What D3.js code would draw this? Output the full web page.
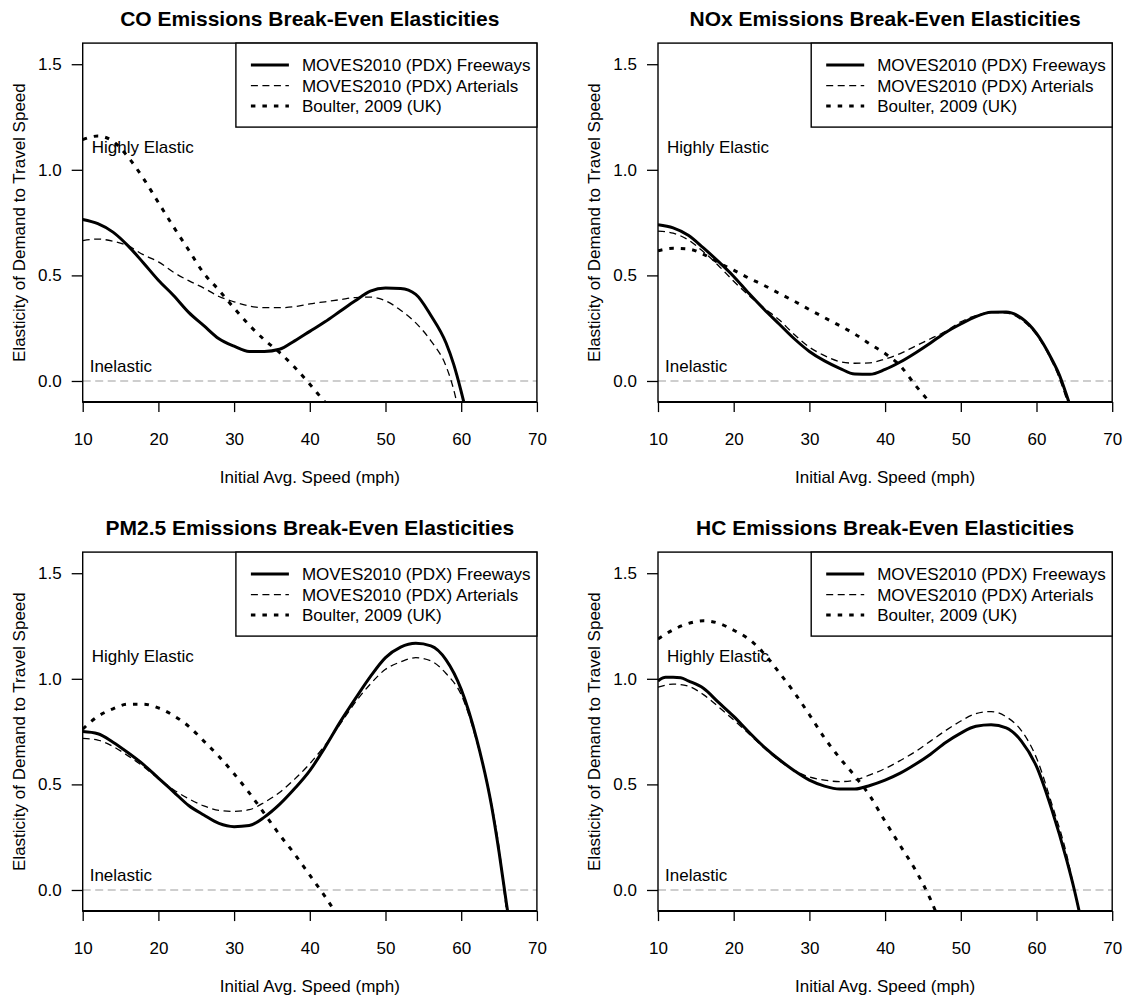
<!DOCTYPE html>
<html>
<head>
<meta charset="utf-8">
<script src="https://cdn.jsdelivr.net/npm/d3@7"></script>
<style>
  body { margin: 0; background: #fff; }
  svg { display: block; font-family: "Liberation Sans", Arial, Helvetica, sans-serif; }
</style>
</head>
<body>
<svg id="chart" width="1130" height="997"></svg>
<script>
// x ticks / y ticks
const speedTicks = [10, 20, 30, 40, 50, 60, 70];
const elastTicks = [0, 0.5, 1.0, 1.5];
const seriesNames = ["MOVES2010 (PDX) Freeways", "MOVES2010 (PDX) Arterials", "Boulter, 2009 (UK)"];

// [speed mph, elasticity]
const coFreeways = [[10,0.765],[12,0.745],[14,0.705],[16,0.64],[18,0.56],[20,0.477],[22,0.405],[24,0.325],[26,0.262],[28,0.2],[30,0.165],[32,0.14],[34,0.14],[36,0.15],[38,0.19],[40,0.235],[42,0.28],[44,0.33],[46,0.38],[48,0.425],[50,0.44],[52,0.438],[54,0.41],[56,0.31],[58,0.18],[59,0.08],[60,-0.05],[61,-0.2]];
const coArterials = [[10,0.665],[12,0.672],[14,0.662],[16,0.64],[18,0.598],[20,0.564],[22,0.515],[24,0.475],[26,0.44],[28,0.4],[30,0.375],[32,0.355],[34,0.347],[36,0.347],[38,0.352],[40,0.365],[42,0.375],[44,0.385],[46,0.395],[48,0.397],[50,0.38],[52,0.335],[54,0.275],[56,0.19],[58,0.07],[59,-0.04],[60,-0.2]];
const coBoulter = [[10,1.143],[12,1.16],[14,1.135],[16,1.06],[18,0.96],[20,0.845],[22,0.73],[24,0.62],[26,0.51],[28,0.43],[30,0.345],[32,0.265],[34,0.195],[36,0.135],[38,0.065],[40,-0.015],[42,-0.1],[43,-0.14]];

const noxFreeways = [[10,0.74],[12,0.725],[14,0.69],[16,0.63],[18,0.565],[20,0.495],[22,0.415],[24,0.34],[26,0.27],[28,0.2],[30,0.14],[32,0.095],[34,0.06],[36,0.033],[38,0.032],[40,0.055],[42,0.09],[44,0.133],[46,0.18],[48,0.23],[50,0.27],[52,0.305],[54,0.325],[56,0.327],[58,0.298],[60,0.225],[62,0.104],[63,0.03],[64,-0.07],[65,-0.18]];
const noxArterials = [[10,0.71],[12,0.7],[14,0.668],[16,0.612],[18,0.546],[20,0.472],[22,0.405],[24,0.345],[26,0.29],[28,0.22],[30,0.16],[32,0.12],[34,0.092],[36,0.084],[38,0.086],[40,0.104],[42,0.13],[44,0.165],[46,0.2],[48,0.235],[50,0.28],[52,0.31],[54,0.325],[56,0.322],[58,0.29],[60,0.218],[62,0.096],[63,0.015],[64,-0.09],[65,-0.2]];
const noxBoulter = [[10,0.617],[12,0.628],[14,0.625],[16,0.6],[18,0.56],[20,0.525],[22,0.487],[24,0.453],[26,0.415],[28,0.378],[30,0.338],[32,0.3],[34,0.262],[36,0.222],[38,0.175],[40,0.13],[42,0.072],[44,-0.02],[46,-0.105]];

const pmFreeways = [[10,0.75],[12,0.74],[14,0.7],[16,0.65],[18,0.595],[20,0.53],[22,0.465],[24,0.4],[26,0.355],[28,0.315],[30,0.3],[32,0.305],[34,0.345],[36,0.405],[38,0.48],[40,0.565],[42,0.675],[44,0.795],[46,0.905],[48,1.01],[50,1.1],[52,1.15],[54,1.168],[56,1.156],[58,1.09],[60,0.95],[62,0.72],[64,0.4],[65,0.18],[66,-0.07],[67,-0.3]];
const pmArterials = [[10,0.718],[12,0.71],[14,0.68],[16,0.635],[18,0.585],[20,0.527],[22,0.475],[24,0.432],[26,0.398],[28,0.377],[30,0.372],[32,0.38],[34,0.415],[36,0.462],[38,0.525],[40,0.598],[42,0.685],[44,0.785],[46,0.888],[48,0.975],[50,1.045],[52,1.08],[54,1.1],[56,1.085],[58,1.025],[60,0.925],[62,0.71],[64,0.41],[65,0.2],[66,-0.1],[67,-0.3]];
const pmBoulter = [[10,0.762],[12,0.822],[14,0.858],[16,0.88],[18,0.88],[20,0.862],[22,0.826],[24,0.775],[26,0.705],[28,0.632],[30,0.55],[32,0.46],[34,0.362],[36,0.262],[38,0.17],[40,0.07],[42,-0.03],[44,-0.14]];

const hcFreeways = [[10,0.99],[11,1.007],[12,1.007],[13,1.005],[14,0.99],[16,0.955],[18,0.888],[20,0.822],[22,0.748],[24,0.678],[26,0.618],[28,0.565],[30,0.52],[32,0.492],[34,0.478],[36,0.478],[38,0.495],[40,0.52],[42,0.553],[44,0.595],[46,0.643],[48,0.698],[50,0.743],[52,0.775],[54,0.782],[56,0.768],[58,0.705],[60,0.585],[62,0.383],[64,0.14],[65,0.0],[66,-0.16]];
const hcArterials = [[10,0.96],[12,0.975],[14,0.965],[16,0.925],[18,0.867],[20,0.805],[22,0.74],[24,0.673],[26,0.613],[28,0.565],[30,0.535],[32,0.52],[34,0.513],[36,0.52],[38,0.545],[40,0.575],[42,0.613],[44,0.655],[46,0.705],[48,0.755],[50,0.8],[52,0.835],[54,0.845],[56,0.82],[58,0.755],[60,0.625],[62,0.41],[64,0.165],[65,0.0],[66,-0.16]];
const hcBoulter = [[10,1.188],[12,1.232],[14,1.262],[16,1.275],[18,1.263],[20,1.23],[22,1.188],[24,1.12],[26,1.03],[28,0.935],[30,0.83],[32,0.72],[34,0.625],[36,0.54],[38,0.445],[40,0.325],[42,0.21],[44,0.095],[46,-0.045],[47,-0.13]];

const panels = [
  { id: "co", title: "CO Emissions Break-Even Elasticities", series: [coFreeways, coArterials, coBoulter], left: 82.7, top: 43.1 },
  { id: "nox", title: "NOx Emissions Break-Even Elasticities", series: [noxFreeways, noxArterials, noxBoulter], left: 658, top: 43.1 },
  { id: "pm", title: "PM2.5 Emissions Break-Even Elasticities", series: [pmFreeways, pmArterials, pmBoulter], left: 82.7, top: 552.1 },
  { id: "hc", title: "HC Emissions Break-Even Elasticities", series: [hcFreeways, hcArterials, hcBoulter], left: 658, top: 552.1 }
];

const W = 454.2, H = 359;
const lineStyles = [
  { width: 3, dash: null, cap: "butt" },
  { width: 1.3, dash: "7,4.5", cap: "butt" },
  { width: 3, dash: "4.5,7", cap: "butt" }
];

const svg = d3.select("#chart");

panels.forEach(p => {
  const x = d3.scaleLinear().domain([10, 70]).range([p.left, p.left + W]);
  const y = d3.scaleLinear().domain([-0.1, 1.6]).range([p.top + H, p.top]);
  const g = svg.append("g");

  g.append("clipPath").attr("id", "clip-" + p.id)
    .append("rect").attr("x", p.left).attr("y", p.top).attr("width", W).attr("height", H);

  // title
  g.append("text")
    .attr("x", p.left + W / 2).attr("y", p.top - 17.5)
    .attr("text-anchor", "middle")
    .style("font-size", "21px").style("font-weight", "bold")
    .text(p.title);

  // axes
  const xAxis = g.append("g")
    .attr("transform", `translate(0,${p.top + H})`)
    .call(d3.axisBottom(x).tickValues(speedTicks).tickSize(10).tickPadding(21).tickFormat(d3.format("d")));
  const yAxis = g.append("g")
    .attr("transform", `translate(${p.left},0)`)
    .call(d3.axisLeft(y).tickValues(elastTicks).tickSize(11).tickPadding(10).tickFormat(d3.format(".1f")));
  [xAxis, yAxis].forEach(a => {
    a.select(".domain").remove();
    a.selectAll("line").attr("stroke", "#000").attr("stroke-width", 1.3);
    a.selectAll("text").attr("fill", "#000").style("font-size", "17px")
      .style("font-family", "'Liberation Sans', Arial, Helvetica, sans-serif");
  });

  // axis titles
  g.append("text")
    .attr("x", p.left + W / 2).attr("y", p.top + 440)
    .attr("text-anchor", "middle").style("font-size", "17px")
    .text("Initial Avg. Speed (mph)");
  g.append("text")
    .attr("transform", `translate(${p.left - 57.7},${p.top + H / 2}) rotate(-90)`)
    .attr("text-anchor", "middle").style("font-size", "17px")
    .text("Elasticity of Demand to Travel Speed");

  // zero reference line
  g.append("line")
    .attr("x1", p.left).attr("x2", p.left + W)
    .attr("y1", y(0)).attr("y2", y(0))
    .attr("stroke", "#bebebe").attr("stroke-width", 1.3).attr("stroke-dasharray", "8,4.5");

  // region labels
  g.append("text").attr("x", x(10) + 9).attr("y", y(1.1)).attr("dy", "0.25em")
    .style("font-size", "17px").text("Highly Elastic");
  g.append("text").attr("x", x(10) + 7).attr("y", y(0.065)).attr("dy", "0.25em")
    .style("font-size", "17px").text("Inelastic");

  // curves
  const line = d3.line().x(d => x(d[0])).y(d => y(d[1])).curve(d3.curveMonotoneX);
  p.series.forEach((s, i) => {
    const st = lineStyles[i];
    g.append("path")
      .datum(s)
      .attr("clip-path", `url(#clip-${p.id})`)
      .attr("d", line)
      .attr("fill", "none").attr("stroke", "#000")
      .attr("stroke-width", st.width)
      .attr("stroke-linecap", st.cap)
      .attr("stroke-linejoin", "round")
      .attr("stroke-dasharray", st.dash);
  });

  // plot box
  g.append("rect")
    .attr("x", p.left).attr("y", p.top).attr("width", W).attr("height", H)
    .attr("fill", "none").attr("stroke", "#000").attr("stroke-width", 1.4);
  g.append("line")
    .attr("x1", p.left).attr("x2", p.left + W)
    .attr("y1", p.top + H).attr("y2", p.top + H)
    .attr("stroke", "#000").attr("stroke-width", 2);

  // legend
  const legW = 301, legH = 84;
  const lx = p.left + W - legW;
  const leg = g.append("g");
  leg.append("rect")
    .attr("x", lx).attr("y", p.top).attr("width", legW).attr("height", legH)
    .attr("fill", "#fff").attr("stroke", "#000").attr("stroke-width", 1.4);
  seriesNames.forEach((name, i) => {
    const ly = p.top + 22 + i * 20.5;
    const st = lineStyles[i];
    leg.append("line")
      .attr("x1", lx + 15).attr("x2", lx + 53).attr("y1", ly).attr("y2", ly)
      .attr("stroke", "#000").attr("stroke-width", st.width)
      .attr("stroke-linecap", st.cap).attr("stroke-dasharray", st.dash);
    leg.append("text")
      .attr("x", lx + 66).attr("y", ly).attr("dy", "0.35em")
      .style("font-size", "17px").text(name);
  });
});
</script>
</body>
</html>
